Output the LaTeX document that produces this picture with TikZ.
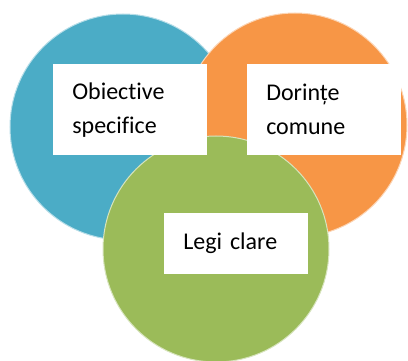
\documentclass[tikz,border=0pt]{standalone}
\usepackage{fontspec}
\setmainfont{Carlito}[Ligatures={NoCommon}]
\usetikzlibrary{positioning}

\begin{document}
\begin{tikzpicture}[x=0.75pt, y=0.75pt, every node/.style ={font=\fontsize{18}{25.5}\selectfont}]
% Three overlapping circles with white text boxes

% Colors
\definecolor{cblue}{RGB}{75,172,198}
\definecolor{corange}{RGB}{247,150,70}
\definecolor{cgreen}{RGB}{155,187,89}

\tikzset{labelbox/.style={fill=white, anchor=north west, inner xsep=14.25pt, inner ysep=0pt, align=left}}

\useasboundingbox (0,0) rectangle (408,361);

% Centres
\coordinate (c1) at (123,234);
\coordinate (c2) at (295,236);
\coordinate (c3) at (216,112);

% Circles
\filldraw[fill=cblue, draw=cblue!40!white, line width=0.75pt] (c1) circle (113);
\filldraw[fill=corange, draw=corange!40!white, line width=0.75pt] (c2) circle (112);
\filldraw[fill=cgreen, draw=cgreen!40!white, line width=0.75pt] (c3) circle (113);

% Boxes
\node[labelbox, text width=87pt, minimum height=68.25pt] (obiective) at (53,297) {Obiective\\specifice};
\node[labelbox, text width=87pt, minimum height=68.25pt] (dorinte) at (247,297) {Dorințe\\comune};
\node[labelbox, text width=79.5pt, minimum height=45.75pt, text depth=4pt] (legi) at (164,148) {Legi clare};
\end{tikzpicture}
\end{document}
